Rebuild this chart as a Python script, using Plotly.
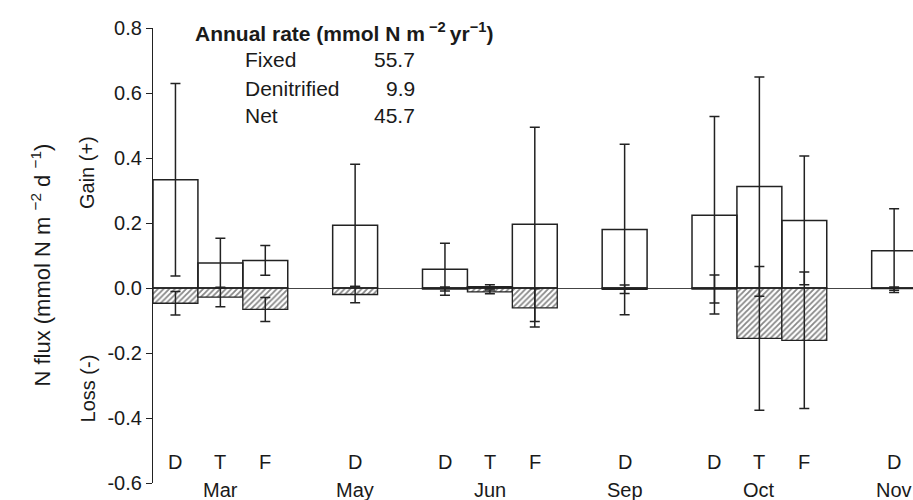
import plotly.graph_objects as go

# slot positions (gaps between months)
positions = [0, 1, 2, 4, 6, 7, 8, 10, 12, 13, 14, 16]
letters = ["D", "T", "F", "D", "D", "T", "F", "D", "D", "T", "F", "D"]
months = ["Mar", "May", "Jun", "Sep", "Oct", "Nov"]
month_pos = [1, 4, 7, 10, 13, 16]

gain = [0.333, 0.077, 0.085, 0.193, 0.058, 0.004, 0.196, 0.180, 0.224, 0.312, 0.208, 0.115]
gain_err = [0.296, 0.076, 0.046, 0.188, 0.080, 0.006, 0.299, 0.262, 0.304, 0.337, 0.198, 0.129]
loss = [-0.047, -0.028, -0.066, -0.020, -0.003, -0.012, -0.061, -0.004, -0.003, -0.155, -0.161, -0.002]
loss_err = [0.036, 0.030, 0.037, 0.025, 0.006, 0.006, 0.059, 0.013, 0.043, 0.221, 0.210, 0.005]

yticks = [-0.6, -0.4, -0.2, 0.0, 0.2, 0.4, 0.6, 0.8]
ytick_text = [f"{v:.1f}" for v in yticks]

rate_labels = ["Fixed", "Denitrified", "Net"]
rate_values = ["55.7", "9.9", "45.7"]

FONT = "Liberation Sans, Arial, Helvetica, sans-serif"
TXT = "#1a1a1a"

fig = go.Figure()
fig.add_trace(go.Bar(
    x=positions, y=loss, width=1,
    marker=dict(color="white", line=dict(color="#222", width=1.3),
                pattern=dict(shape="/", fgcolor="#111", bgcolor="white", size=4, solidity=0.45)),
    error_y=dict(type="data", array=loss_err, color="#222", thickness=1.5, width=5),
    showlegend=False,
))
fig.add_trace(go.Bar(
    x=positions, y=gain, width=1,
    marker=dict(color="rgba(255,255,255,0)", line=dict(color="#222", width=1.5)),
    error_y=dict(type="data", array=gain_err, color="#222", thickness=1.5, width=5),
    showlegend=False,
))

annotations = []
for p, l in zip(positions, letters):
    annotations.append(dict(x=p, y=-0.536, xref="x", yref="y", text=l, showarrow=False,
                            font=dict(size=20, color=TXT, family=FONT)))
for p, m in zip(month_pos, months):
    annotations.append(dict(x=p, y=-0.016, xref="x", yref="paper", yanchor="middle", text=m,
                            showarrow=False, font=dict(size=20, color=TXT, family=FONT)))

annotations.append(dict(x=-0.168, y=0.07, xref="paper", yref="y", textangle=-90,
                        text="N flux (mmol N m <sup>−2</sup> d <sup>−1</sup>)", showarrow=False,
                        font=dict(size=22, color=TXT, family=FONT)))
annotations.append(dict(x=-0.103, y=0.356, xref="paper", yref="y", textangle=-90,
                        text="Gain (+)", showarrow=False, font=dict(size=20, color=TXT, family=FONT)))
annotations.append(dict(x=-0.103, y=-0.31, xref="paper", yref="y", textangle=-90,
                        text="Loss (-)", showarrow=False, font=dict(size=20, color=TXT, family=FONT)))

annotations.append(dict(x=0.0526, y=0.787, xref="paper", yref="y", xanchor="left",
                        text="<b>Annual rate (mmol N m<sup> −2 </sup>yr<sup>−1</sup>)</b>", showarrow=False,
                        font=dict(size=21, color=TXT, family=FONT)))
for i, (lab, val) in enumerate(zip(rate_labels, rate_values)):
    yy = [0.704, 0.614, 0.531][i]
    annotations.append(dict(x=0.118, y=yy, xref="paper", yref="y", xanchor="left", text=lab,
                            showarrow=False, font=dict(size=21, color=TXT, family=FONT)))
    annotations.append(dict(x=0.347, y=yy, xref="paper", yref="y", xanchor="right", text=val,
                            showarrow=False, font=dict(size=21, color=TXT, family=FONT)))

fig.update_layout(
    width=913, height=500,
    margin=dict(l=153, r=0, t=28, b=17),
    paper_bgcolor="white", plot_bgcolor="white",
    barmode="overlay",
    font=dict(family=FONT, size=20, color=TXT),
    annotations=annotations,
    xaxis=dict(range=[-0.5, 16.42], visible=False, showgrid=False, zeroline=False),
    yaxis=dict(range=[-0.6, 0.8], tickvals=yticks, ticktext=ytick_text,
               showline=True, linecolor="#222", linewidth=1.2,
               ticks="outside", ticklen=6, tickwidth=1.2, tickcolor="#222",
               showgrid=False, zeroline=True, zerolinecolor="#444", zerolinewidth=1,
               tickfont=dict(size=20, color=TXT, family=FONT)),
)

fig.write_html("out.html")
